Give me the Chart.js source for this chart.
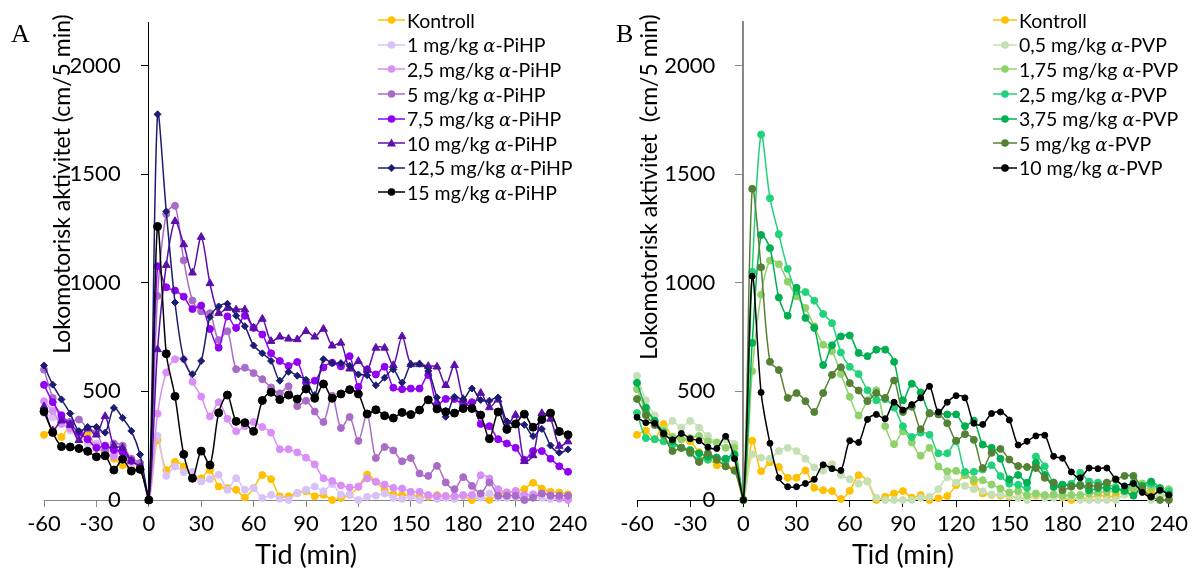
<!DOCTYPE html>
<html lang="no">

<head>
  <meta charset="UTF-8">
  <title>Lokomotorisk aktivitet</title>
  <script src="https://cdn.jsdelivr.net/npm/chart.js"></script>
  <style>
    body { margin: 0; background: #fff; }
    .wrap { display: flex; width: 1192px; height: 572px; }
    .panel { position: relative; width: 596px; height: 572px; }
    .letter { position: absolute; font-family: 'Liberation Serif', serif; font-size: 26px; line-height: 1; }
    .legend { position: absolute; font-family: Lato, sans-serif; font-size: 19.5px; color: #000; }
    .legend div { height: 24.6px; display: flex; align-items: center; white-space: nowrap; }
    .legend i { font-family: 'DejaVu Serif', serif; font-size: 18px; }
  </style>
</head>

<body>
  <div class="wrap">
    <div class="panel">
      <canvas id="chartA" width="596" height="572"></canvas>
      <div class="letter" style="left:11px;top:21px">A</div>
      <div class="legend" id="legA" style="left:378px;top:8px"></div>
    </div>
    <div class="panel">
      <canvas id="chartB" width="596" height="572"></canvas>
      <div class="letter" style="left:20px;top:21px">B</div>
      <div class="legend" id="legB" style="left:397px;top:8px"></div>
    </div>
  </div>
  <script>
    // tid i minutter, 5-min intervaller
    const tid = [-60, -55, -50, -45, -40, -35, -30, -25, -20, -15, -10, -5, 0,
      5, 10, 15, 20, 25, 30, 35, 40, 45, 50, 55, 60, 65, 70, 75, 80, 85, 90, 95, 100, 105, 110, 115, 120,
      125, 130, 135, 140, 145, 150, 155, 160, 165, 170, 175, 180, 185, 190, 195, 200, 205, 210, 215, 220, 225, 230, 235, 240];
    const xTicks = [-60, -30, 0, 30, 60, 90, 120, 150, 180, 210, 240];
    const yTicks = [0, 500, 1000, 1500, 2000];

    // Panel A: alfa-PiHP
    const kontrollA = [300, 320, 290, 345, 295, 305, 240, 220, 190, 160, 145, 140, 0,
      275, 138, 176, 154, 100, 100, 138, 62, 55, 47, 12, 55, 115, 96, 17, 17, 32, 40, 17, 24, 0, 9, 24, 60,
      117, 84, 46, 26, 23, 23, 15, 15, 23, 18, 15, 18, 0, 15, 0, 26, 35, 41, 50, 79, 53, 38, 35, 26];
    const pihp1 = [400, 380, 360, 320, 300, 260, 260, 200, 210, 190, 170, 170, 0,
      295, 111, 154, 128, 130, 85, 96, 116, 47, 100, 47, 55, 9, 24, 6, 0, 32, 47, 62, 40, 73, 24, 24, 0,
      15, 20, 30, 10, 5, 15, 0, 20, 5, 10, 5, 20, 20, 10, 30, 10, 10, 15, 20, 15, 10, 5, 5, 5];
    const pihp25 = [455, 410, 350, 330, 300, 280, 250, 220, 200, 240, 180, 160, 0,
      397, 587, 648, 648, 544, 476, 385, 450, 374, 316, 340, 359, 336, 310, 234, 234, 219, 195, 164, 100, 88, 67, 58, 62,
      99, 84, 71, 56, 53, 38, 38, 23, 18, 18, 18, 23, 23, 114, 99, 50, 35, 41, 23, 26, 30, 23, 8, 0];
    const pihp5 = [600, 470, 370, 360, 370, 330, 310, 230, 260, 250, 190, 170, 0,
      939, 1316, 1354, 1103, 918, 868, 860, 736, 777, 602, 609, 584, 556, 518, 491, 523, 432, 457, 407, 359, 480, 331, 382, 272,
      396, 193, 244, 228, 178, 193, 122, 111, 157, 81, 50, 105, 65, 30, 80, 20, 20, 20, 0, 10, 30, 20, 20, 20];
    const pihp75 = [530, 450, 390, 350, 310, 280, 240, 250, 230, 220, 180, 150, 0,
      1076, 979, 964, 936, 879, 895, 787, 701, 845, 792, 848, 792, 762, 675, 640, 617, 635, 541, 549, 610, 632, 615, 662, 521,
      601, 578, 613, 517, 510, 513, 513, 575, 440, 465, 465, 440, 450, 350, 340, 280, 260, 240, 185, 225, 225, 190, 155, 130];
    const pihp10 = [430, 320, 365, 345, 275, 330, 300, 385, 250, 240, 180, 150, 0,
      693, 1081, 1283, 1176, 1046, 1210, 997, 860, 883, 876, 876, 792, 833, 731, 751, 742, 739, 777, 751, 787, 710, 723, 604, 639,
      598, 700, 700, 620, 753, 624, 624, 616, 613, 528, 620, 464, 426, 492, 426, 461, 342, 391, 178, 205, 399, 373, 248, 269];
    const pihp125 = [619, 531, 463, 398, 317, 336, 336, 310, 424, 378, 318, 209, 0,
      1775, 1328, 909, 648, 579, 640, 842, 891, 903, 848, 800, 711, 675, 640, 549, 590, 572, 553, 483, 648, 630, 630, 618, 578,
      574, 528, 563, 601, 540, 624, 627, 594, 472, 383, 475, 464, 513, 460, 457, 472, 362, 350, 346, 294, 327, 251, 218, 233];
    const pihp15 = [407, 311, 246, 244, 237, 224, 199, 204, 138, 188, 133, 141, 0,
      1259, 673, 477, 210, 100, 225, 161, 401, 483, 362, 356, 316, 458, 496, 462, 483, 465, 511, 468, 534, 468, 488, 508, 488,
      396, 415, 388, 377, 403, 393, 414, 461, 419, 406, 400, 421, 421, 391, 282, 405, 325, 350, 395, 335, 370, 400, 315, 300];

    // Panel B: alfa-PVP
    const kontrollB = [300, 320, 280, 350, 290, 280, 270, 220, 195, 160, 155, 140, 0,
      273, 132, 174, 152, 102, 102, 136, 56, 45, 41, 5, 42, 114, 86, 0, 15, 30, 41, 11, 23, 0, 8, 18, 68,
      114, 83, 30, 23, 20, 15, 11, 5, 20, 15, 15, 11, 0, 10, 5, 23, 15, 20, 38, 45, 40, 40, 23, 15];
    const pvp05 = [571, 459, 389, 323, 364, 333, 364, 333, 295, 265, 280, 258, 0,
      210, 195, 190, 225, 240, 225, 190, 150, 135, 165, 115, 95, 75, 85, 10, 0, 0, 0, 0, 10, 15, 50, 105, 80,
      65, 50, 40, 25, 25, 20, 10, 0, 25, 10, 10, 15, 15, 0, 0, 0, 0, 0, 25, 25, 40, 0, 25, 20];
    const pvp175 = [510, 410, 360, 320, 290, 280, 285, 295, 270, 265, 240, 240, 0,
      593, 945, 1102, 1085, 1005, 937, 884, 800, 715, 685, 580, 475, 389, 459, 505, 339, 257, 315, 265, 204, 240, 154, 132, 134,
      114, 95, 91, 71, 53, 35, 41, 23, 30, 23, 26, 20, 23, 23, 30, 35, 38, 41, 50, 53, 76, 56, 53, 50];
    const pvp25 = [400, 285, 280, 270, 255, 240, 215, 185, 185, 195, 180, 205, 0,
      1050, 1682, 1389, 1223, 1064, 960, 957, 917, 856, 814, 679, 613, 580, 505, 459, 464, 425, 340, 290, 310, 300, 215, 215, 270,
      130, 130, 140, 160, 110, 75, 70, 55, 200, 155, 80, 70, 75, 125, 85, 80, 70, 60, 40, 80, 60, 75, 45, 40];
    const pvp375 = [540, 425, 365, 310, 270, 240, 230, 215, 200, 195, 190, 210, 0,
      723, 1220, 1159, 932, 848, 977, 838, 792, 621, 712, 753, 757, 677, 662, 692, 692, 636, 459, 535, 495, 400, 398, 394, 394,
      340, 365, 255, 240, 190, 95, 115, 80, 170, 115, 60, 70, 65, 70, 45, 55, 55, 50, 45, 20, 65, 85, 55, 25];
    const pvp5 = [465, 390, 345, 300, 225, 240, 220, 175, 215, 185, 155, 135, 0,
      1432, 1071, 636, 598, 470, 492, 455, 405, 492, 576, 611, 538, 504, 455, 492, 470, 550, 405, 429, 326, 398, 394, 353, 273,
      303, 277, 147, 217, 235, 186, 156, 152, 147, 102, 80, 45, 61, 65, 65, 65, 80, 95, 111, 111, 53, 15, 0, 0];
    const pvp10 = [381, 356, 353, 306, 277, 306, 282, 273, 243, 237, 293, 190, 0,
      1030, 495, 261, 102, 61, 61, 76, 95, 162, 144, 136, 273, 265, 371, 394, 374, 450, 414, 439, 470, 523, 405, 450, 480,
      470, 353, 348, 398, 405, 368, 253, 270, 295, 298, 201, 192, 129, 102, 147, 144, 147, 95, 65, 76, 35, 15, 45, 23];

    const seriesA = [
      ['Kontroll', kontrollA, '#FFC000', 'circle', 3.5],
      ['1 mg/kg α-PiHP', pihp1, '#D9C2F7', 'circle', 3.5],
      ['2,5 mg/kg α-PiHP', pihp25, '#DA8EF7', 'circle', 3.5],
      ['5 mg/kg α-PiHP', pihp5, '#A86CC8', 'circle', 3.5],
      ['7,5 mg/kg α-PiHP', pihp75, '#9100F5', 'circle', 3.5],
      ['10 mg/kg α-PiHP', pihp10, '#5C0FAA', 'triangle', 4.5],
      ['12,5 mg/kg α-PiHP', pihp125, '#1C1C72', 'rectRot', 3.5],
      ['15 mg/kg α-PiHP', pihp15, '#000000', 'circle', 4]
    ];
    const seriesB = [
      ['Kontroll', kontrollB, '#FFC000', 'circle', 3.5],
      ['0,5 mg/kg α-PVP', pvp05, '#C5E0B4', 'circle', 3.5],
      ['1,75 mg/kg α-PVP', pvp175, '#8FD16A', 'circle', 3.5],
      ['2,5 mg/kg α-PVP', pvp25, '#22D27A', 'circle', 3.5],
      ['3,75 mg/kg α-PVP', pvp375, '#00B050', 'circle', 3.5],
      ['5 mg/kg α-PVP', pvp5, '#548235', 'circle', 3.5],
      ['10 mg/kg α-PVP', pvp10, '#000000', 'circle', 3]
    ];

    // y-aksetittel tegnes selv for å treffe plasseringen
    const yTittel = {
      id: 'yTittel',
      afterDraw(chart, args, opts) {
        const ctx = chart.ctx;
        ctx.save();
        ctx.translate(opts.x, opts.y);
        ctx.rotate(-Math.PI / 2);
        ctx.font = '23px Lato';
        ctx.fillStyle = '#000';
        ctx.textAlign = 'center';
        ctx.textBaseline = 'middle';
        ctx.fillText(opts.text, 0, 0);
        ctx.restore();
      }
    };

    function lagGraf(id, series, pad, yTitle, xBorder, yBorder) {
      const datasets = series.map(([label, values, color, style, r], i) => ({
        label,
        data: tid.map((t, k) => ({ x: t, y: values[k] })),
        borderColor: color,
        backgroundColor: color,
        pointStyle: style,
        pointRadius: r,
        pointHoverRadius: r,
        pointBorderWidth: 1,
        borderWidth: 1.5,
        tension: 0.3,
        clip: false,
        order: -i
      }));
      const font = { family: 'Lato', size: 22 };
      return new Chart(document.getElementById(id), {
        type: 'line',
        data: { datasets },
        options: {
          responsive: false,
          animation: false,
          layout: { padding: pad },
          plugins: { legend: { display: false }, tooltip: { enabled: false }, yTittel: yTitle },
          scales: {
            x: {
              type: 'linear', min: -60, max: 240,
              afterBuildTicks: s => { s.ticks = xTicks.map(v => ({ value: v })); },
              ticks: { autoSkip: false, maxRotation: 0, padding: 4, color: '#000', font },
              grid: { drawOnChartArea: false, tickLength: 7, color: xBorder.color },
              border: xBorder,
              title: { display: true, text: 'Tid (min)', color: '#000', font: { family: 'Lato', size: 27, lineHeight: 1 }, padding: { top: 0, bottom: 0 } }
            },
            y: {
              min: 0, max: 2200, position: { x: 0 },
              afterBuildTicks: s => { s.ticks = yTicks.map(v => ({ value: v })); },
              // aksen står ved x = 0, så etikettene skyves litt til venstre med mellomrom
              ticks: { color: '#000', font, callback: v => String(v) + '     ' },
              grid: { drawOnChartArea: false, tickLength: 7, color: yBorder.color },
              border: yBorder
            }
          }
        },
        plugins: [yTittel]
      });
    }

    function lagLegende(elId, series, lineW) {
      const el = document.getElementById(elId);
      el.innerHTML = series.map(([label, , color, style]) => {
        const mid = lineW / 2;
        let mark = `<circle cx="${mid}" cy="6" r="3.8" fill="${color}"/>`;
        if (style === 'triangle') mark = `<polygon points="${mid},1.5 ${mid + 4.5},9.5 ${mid - 4.5},9.5" fill="${color}"/>`;
        if (style === 'rectRot') mark = `<polygon points="${mid},2 ${mid + 4},6 ${mid},10 ${mid - 4},6" fill="${color}"/>`;
        const svg = `<svg width="${lineW}" height="12" style="margin-right:2px"><line x1="0" y1="6" x2="${lineW}" y2="6" stroke="${color}" stroke-width="1.5"/>${mark}</svg>`;
        return `<div>${svg}<span>${label.replace('α', '<i>α</i>')}</span></div>`;
      }).join('');
    }

    lagGraf('chartA', seriesA, { left: 44, right: 28, top: 22, bottom: 3.6 },
      { text: 'Lokomotorisk aktivitet (cm/5 min)', x: 63, y: 184 },
      { color: '#868686', width: 1 }, { color: '#000', width: 1 });
    lagGraf('chartB', seriesB, { left: 41, right: 20, top: 22, bottom: 3.6 },
      { text: 'Lokomotorisk aktivitet  (cm/5 min)', x: 54, y: 187 },
      { color: '#000', width: 1 }, { color: '#888', width: 2 });

    lagLegende('legA', seriesA, 27);
    lagLegende('legB', seriesB, 24);
  </script>
</body>

</html>
